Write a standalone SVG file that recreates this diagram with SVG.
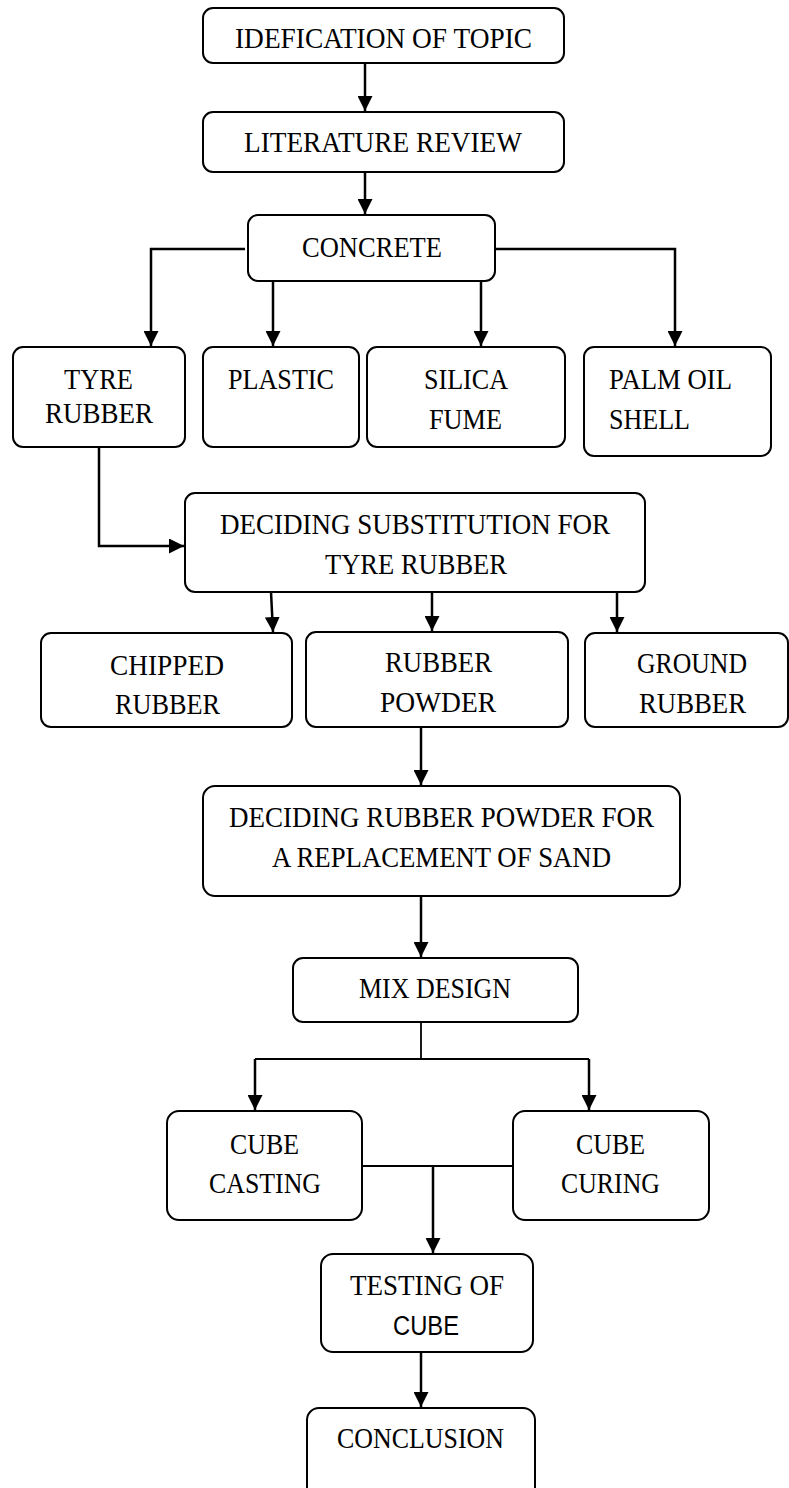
<svg xmlns="http://www.w3.org/2000/svg" width="789" height="1488" viewBox="0 0 789 1488">
<style>
.box{fill:#fff;stroke:#000;stroke-width:2}
.t{font-family:"Liberation Serif","Times New Roman",serif;font-size:30px;fill:#000}
.s{font-family:"Liberation Sans",Arial,sans-serif;font-size:27px;fill:#000}
.c{fill:none;stroke:#000;stroke-width:2.5}
.j{fill:none;stroke:#000;stroke-width:1.8}
</style>
<defs>
<marker id="ah" viewBox="0 0 15 15" refX="15" refY="7.5" markerWidth="15" markerHeight="15" markerUnits="userSpaceOnUse" orient="auto">
<path d="M0,0 L15,7.5 L0,15 z" fill="#000"/>
</marker>
</defs>
<g id="n1"><rect class="box" x="203" y="8" width="361" height="55" rx="10"/><text class="t" x="235" y="48" textLength="297" lengthAdjust="spacingAndGlyphs">IDEFICATION OF TOPIC</text></g>
<g id="n2"><rect class="box" x="203" y="112" width="361" height="60" rx="10"/><text class="t" x="244" y="152" textLength="278" lengthAdjust="spacingAndGlyphs">LITERATURE REVIEW</text></g>
<g id="n3"><rect class="box" x="248" y="215" width="247" height="66" rx="10"/><text class="t" x="302" y="257" textLength="140" lengthAdjust="spacingAndGlyphs">CONCRETE</text></g>
<g id="n4"><rect class="box" x="13" y="347" width="172" height="100" rx="10"/><text class="t" x="64" y="389" textLength="69" lengthAdjust="spacingAndGlyphs">TYRE</text><text class="t" x="45" y="423" textLength="108" lengthAdjust="spacingAndGlyphs">RUBBER</text></g>
<g id="n5"><rect class="box" x="203" y="347" width="156" height="100" rx="10"/><text class="t" x="228" y="389" textLength="106" lengthAdjust="spacingAndGlyphs">PLASTIC</text></g>
<g id="n6"><rect class="box" x="367" y="347" width="198" height="100" rx="10"/><text class="t" x="424" y="389" textLength="84" lengthAdjust="spacingAndGlyphs">SILICA</text><text class="t" x="429" y="429" textLength="73" lengthAdjust="spacingAndGlyphs">FUME</text></g>
<g id="n7"><rect class="box" x="584" y="347" width="187" height="109" rx="10"/><text class="t" x="609" y="389" textLength="123" lengthAdjust="spacingAndGlyphs">PALM OIL</text><text class="t" x="609" y="429" textLength="81" lengthAdjust="spacingAndGlyphs">SHELL</text></g>
<g id="n8"><rect class="box" x="185" y="493" width="460" height="99" rx="10"/><text class="t" x="220" y="534" textLength="390" lengthAdjust="spacingAndGlyphs">DECIDING SUBSTITUTION FOR</text><text class="t" x="325" y="574" textLength="182" lengthAdjust="spacingAndGlyphs">TYRE RUBBER</text></g>
<g id="n9"><rect class="box" x="41" y="633" width="251" height="94" rx="10"/><text class="t" x="110" y="675" textLength="114" lengthAdjust="spacingAndGlyphs">CHIPPED</text><text class="t" x="115" y="714" textLength="105" lengthAdjust="spacingAndGlyphs">RUBBER</text></g>
<g id="n10"><rect class="box" x="306" y="632" width="262" height="95" rx="10"/><text class="t" x="385" y="672" textLength="107" lengthAdjust="spacingAndGlyphs">RUBBER</text><text class="t" x="380" y="712" textLength="116" lengthAdjust="spacingAndGlyphs">POWDER</text></g>
<g id="n11"><rect class="box" x="585" y="633" width="203" height="94" rx="10"/><text class="t" x="637" y="673" textLength="110" lengthAdjust="spacingAndGlyphs">GROUND</text><text class="t" x="639" y="713" textLength="107" lengthAdjust="spacingAndGlyphs">RUBBER</text></g>
<g id="n12"><rect class="box" x="203" y="786" width="477" height="110" rx="12"/><text class="t" x="229" y="827" textLength="425" lengthAdjust="spacingAndGlyphs">DECIDING RUBBER POWDER FOR</text><text class="t" x="272" y="867" textLength="339" lengthAdjust="spacingAndGlyphs">A REPLACEMENT OF SAND</text></g>
<g id="n13"><rect class="box" x="293" y="958" width="285" height="64" rx="10"/><text class="t" x="359" y="998" textLength="152" lengthAdjust="spacingAndGlyphs">MIX DESIGN</text></g>
<g id="n14"><rect class="box" x="167" y="1111" width="195" height="109" rx="12"/><text class="t" x="230" y="1154" textLength="69" lengthAdjust="spacingAndGlyphs">CUBE</text><text class="t" x="209" y="1193" textLength="112" lengthAdjust="spacingAndGlyphs">CASTING</text></g>
<g id="n15"><rect class="box" x="513" y="1111" width="196" height="109" rx="12"/><text class="t" x="576" y="1154" textLength="69" lengthAdjust="spacingAndGlyphs">CUBE</text><text class="t" x="561" y="1193" textLength="99" lengthAdjust="spacingAndGlyphs">CURING</text></g>
<g id="n16"><rect class="box" x="321" y="1254" width="212" height="98" rx="12"/><text class="t" x="350" y="1295" textLength="154" lengthAdjust="spacingAndGlyphs">TESTING OF</text><text class="s" x="393" y="1335" textLength="66" lengthAdjust="spacingAndGlyphs">CUBE</text></g>
<g id="n17"><rect class="box" x="307" y="1408" width="228" height="110" rx="12"/><text class="t" x="337" y="1448" textLength="167" lengthAdjust="spacingAndGlyphs">CONCLUSION</text></g>
<g id="connectors">
<path class="c" d="M365,63 V111" marker-end="url(#ah)"/>
<path class="c" d="M365,172 V214" marker-end="url(#ah)"/>
<path class="c" d="M245,249 H151 V346" marker-end="url(#ah)"/>
<path class="c" d="M273,281 V346" marker-end="url(#ah)"/>
<path class="c" d="M481,281 V346" marker-end="url(#ah)"/>
<path class="c" d="M495,249 H675 V346" marker-end="url(#ah)"/>
<path class="c" d="M99,447 V546 H184" marker-end="url(#ah)"/>
<path class="c" d="M271,592 L273,632" marker-end="url(#ah)"/>
<path class="c" d="M432,592 V631" marker-end="url(#ah)"/>
<path class="c" d="M617,592 V632" marker-end="url(#ah)"/>
<path class="c" d="M421,727 V785" marker-end="url(#ah)"/>
<path class="c" d="M421,896 V957" marker-end="url(#ah)"/>
<path class="j" d="M421,1022 V1059"/>
<path class="j" d="M421,1059 H255"/>
<path class="j" d="M421,1059 H589"/>
<path class="c" d="M255,1059 V1110" marker-end="url(#ah)"/>
<path class="c" d="M589,1059 V1110" marker-end="url(#ah)"/>
<path class="j" d="M362,1166 H513"/>
<path class="c" d="M433,1166 V1253" marker-end="url(#ah)"/>
<path class="c" d="M421,1352 V1407" marker-end="url(#ah)"/>
</g>
</svg>
